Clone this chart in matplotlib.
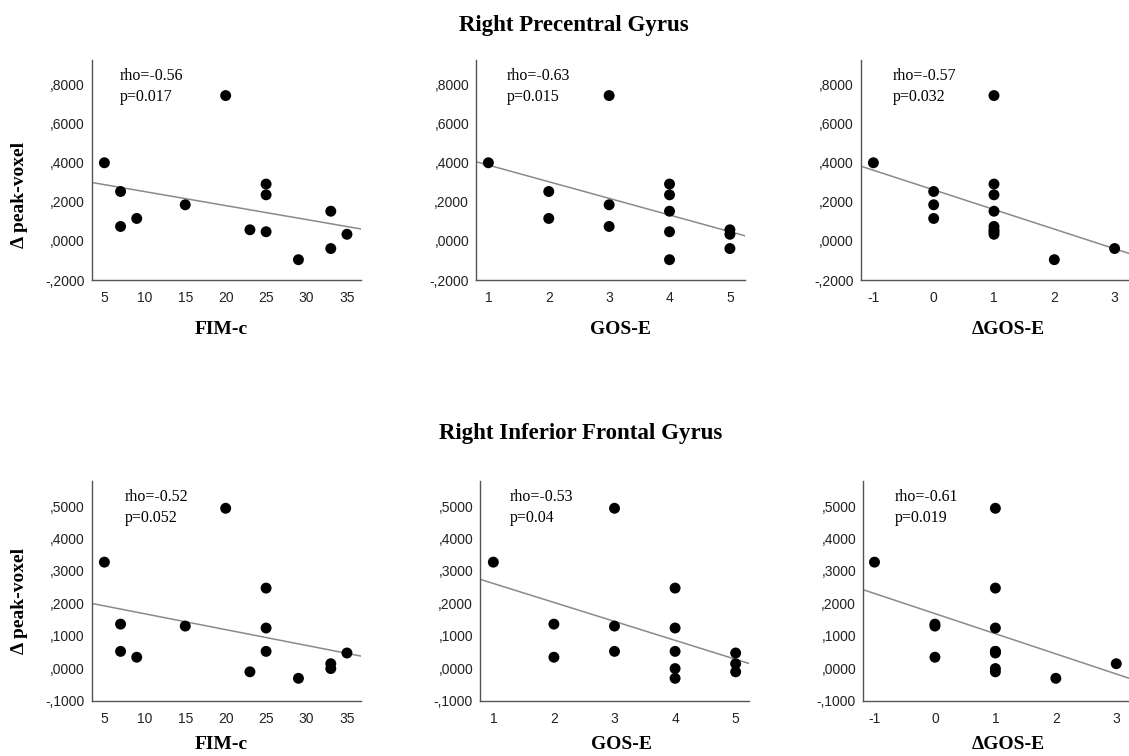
#!/usr/bin/env python3

import numpy as np
import matplotlib
matplotlib.use("Agg")
import matplotlib.pyplot as plt
from matplotlib.ticker import FuncFormatter

plt.rcParams["axes.unicode_minus"] = False

# one entry per patient (14)
fim_c = [5, 7, 7, 9, 15, 20, 23, 25, 25, 25, 29, 33, 33, 35]
gos_e = [1, 2, 3, 2, 3, 3, 5, 4, 4, 4, 4, 4, 5, 5]
delta_gos_e = [-1, 0, 1, 0, 0, 1, 1, 1, 1, 1, 2, 1, 3, 1]

# delta peak-voxel values
precentral = [0.400, 0.253, 0.074, 0.115, 0.185, 0.744, 0.057,
              0.291, 0.236, 0.047, -0.096, 0.152, -0.039, 0.034]
inf_frontal = [0.327, 0.136, 0.052, 0.034, 0.130, 0.493, -0.011,
               0.247, 0.124, 0.052, -0.031, -0.001, 0.014, 0.047]

row_titles = ["Right Precentral Gyrus", "Right Inferior Frontal Gyrus"]
x_names = ["FIM-c", "GOS-E", "\u0394GOS-E"]
rho_top = ["rho=-0.56", "rho=-0.63", "rho=-0.57"]
p_top = ["p=0.017", "p=0.015", "p=0.032"]
rho_bot = ["rho=-0.52", "rho=-0.53", "rho=-0.61"]
p_bot = ["p=0.052", "p=0.04", "p=0.019"]

x_ticks = [[5, 10, 15, 20, 25, 30, 35], [1, 2, 3, 4, 5], [-1, 0, 1, 2, 3]]
y_ticks_top = [-0.2, 0.0, 0.2, 0.4, 0.6, 0.8]
y_ticks_bot = [-0.1, 0.0, 0.1, 0.2, 0.3, 0.4, 0.5]

SERIF = "Liberation Serif"
SANS = "Liberation Sans"


def spss_fmt(v, pos):
    # SPSS style: ,8000 / -,2000
    s = f"{v:.4f}"
    return s.replace("0.", ",", 1)


fig = plt.figure(figsize=(11.29, 7.56), dpi=100)
W, H = 1129.0, 756.0

# (left px, bottom px, xlim) per panel
top_layout = [(91.7, 280, (3.43, 36.7)), (476, 280, (0.795, 5.25)), (860.7, 280, (-1.21, 3.25))]
bot_layout = [(91.7, 700.7, (3.43, 36.7)), (480, 700.7, (0.78, 5.22)), (863, 700.7, (-1.19, 3.26))]
xlabel_x_top = [0.48, 0.538, 0.548]
xlabel_x_bot = [0.483, 0.525, 0.54]
note_x_top = [0.105, 0.114, 0.12]
note_x_bot = [0.124, 0.109, 0.119]

xs = [fim_c, gos_e, delta_gos_e]

rows = [
    (precentral, top_layout, (-0.2, 0.926), y_ticks_top, rho_top, p_top, xlabel_x_top, note_x_top, -0.227, 0.386),
    (inf_frontal, bot_layout, (-0.1, 0.578), y_ticks_bot, rho_bot, p_bot, xlabel_x_bot, note_x_bot, -0.20, 0.4545),
]

for r, (yvals, layout, ylim, yticks, rhos, ps, xl_x, nx, xl_y, yl_y) in enumerate(rows):
    for c in range(3):
        left, bottom, xlim = layout[c]
        ax = fig.add_axes([left / W, 1 - bottom / H, 269 / W, 220 / H])
        x = np.array(xs[c], dtype=float)
        y = np.array(yvals)

        # least squares fit line across the whole axis
        slope, icpt = np.polyfit(x, y, 1)
        lx = np.array(xlim)
        ax.plot(lx, slope * lx + icpt, color="#8a8a8a", lw=1.1, zorder=1)
        ax.scatter(x, y, s=62, color="black", edgecolors="none", zorder=2)

        ax.set_xlim(*xlim)
        ax.set_ylim(*ylim)
        ax.set_xticks(x_ticks[c])
        ax.set_yticks(yticks)
        ax.yaxis.set_major_formatter(FuncFormatter(spss_fmt))
        ax.tick_params(length=0, labelsize=10, colors="#222222")
        ax.tick_params(axis="y", pad=5)
        ax.tick_params(axis="x", pad=8)
        for lab in ax.get_xticklabels() + ax.get_yticklabels():
            lab.set_fontfamily(SANS)

        for side in ["top", "right"]:
            ax.spines[side].set_visible(False)
        for side in ["left", "bottom"]:
            ax.spines[side].set_color("#555555")
            ax.spines[side].set_linewidth(1.0)

        ax.text(nx[c], 0.925, rhos[c], transform=ax.transAxes, family=SERIF,
                fontsize=11.5, va="center", ha="left")
        ax.text(nx[c], 0.83, ps[c], transform=ax.transAxes, family=SERIF,
                fontsize=11.5, va="center", ha="left")

        ax.text(xl_x[c], xl_y, x_names[c], transform=ax.transAxes, family=SERIF,
                fontsize=14, fontweight="bold", ha="center", va="center")

        if c == 0:
            ax.text(-0.267, yl_y, "\u0394 peak-voxel", transform=ax.transAxes,
                    family=SERIF, fontsize=14, fontweight="bold", rotation=90,
                    ha="center", va="center")

fig.text(574 / W, 1 - 25 / H, row_titles[0], family=SERIF, fontsize=16.5,
         fontweight="bold", ha="center", va="center")
fig.text(580.5 / W, 1 - 433 / H, row_titles[1], family=SERIF, fontsize=16.5,
         fontweight="bold", ha="center", va="center")

fig.savefig("out.png", dpi=100)
